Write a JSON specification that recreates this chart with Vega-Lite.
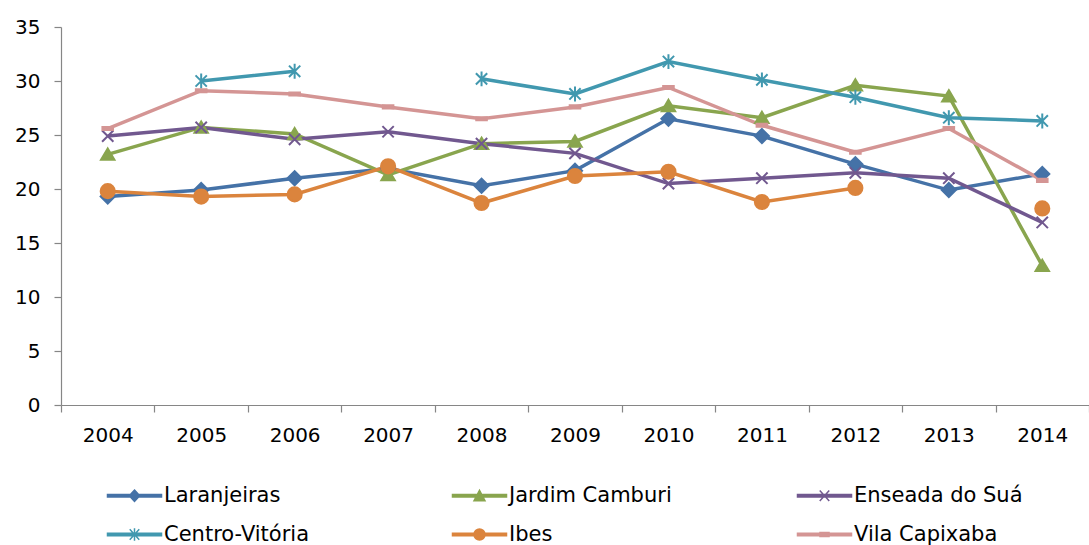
{
  "$schema": "https://vega.github.io/schema/vega-lite/v6.json",
  "width": 1028,
  "height": 378,
  "autosize": {"type": "none"},
  "padding": {"left": 61, "top": 27, "right": 0, "bottom": 140},
  "background": "white",
  "config": {
    "view": {"stroke": null},
    "font": "DejaVu Sans",
    "axis": {"labelFont": "DejaVu Sans", "labelFontSize": 20, "labelColor": "#000000", "domainColor": "#868686", "tickColor": "#868686", "domainWidth": 1.2, "tickWidth": 1.2, "grid": false, "title": null}
  },
  "resolve": {"scale": {"shape": "independent"}, "legend": {"color": "independent", "shape": "independent"}},
  "data": {"values": [
    {"series": "Laranjeiras", "year": "2004", "value": 19.3},
    {"series": "Laranjeiras", "year": "2005", "value": 19.9},
    {"series": "Laranjeiras", "year": "2006", "value": 21.0},
    {"series": "Laranjeiras", "year": "2007", "value": 21.9},
    {"series": "Laranjeiras", "year": "2008", "value": 20.3},
    {"series": "Laranjeiras", "year": "2009", "value": 21.7},
    {"series": "Laranjeiras", "year": "2010", "value": 26.5},
    {"series": "Laranjeiras", "year": "2011", "value": 24.9},
    {"series": "Laranjeiras", "year": "2012", "value": 22.3},
    {"series": "Laranjeiras", "year": "2013", "value": 19.9},
    {"series": "Laranjeiras", "year": "2014", "value": 21.4},
    {"series": "Jardim Camburi", "year": "2004", "value": 23.2},
    {"series": "Jardim Camburi", "year": "2005", "value": 25.7},
    {"series": "Jardim Camburi", "year": "2006", "value": 25.1},
    {"series": "Jardim Camburi", "year": "2007", "value": 21.3},
    {"series": "Jardim Camburi", "year": "2008", "value": 24.2},
    {"series": "Jardim Camburi", "year": "2009", "value": 24.4},
    {"series": "Jardim Camburi", "year": "2010", "value": 27.7},
    {"series": "Jardim Camburi", "year": "2011", "value": 26.6},
    {"series": "Jardim Camburi", "year": "2012", "value": 29.6},
    {"series": "Jardim Camburi", "year": "2013", "value": 28.6},
    {"series": "Jardim Camburi", "year": "2014", "value": 12.9},
    {"series": "Enseada do Suá", "year": "2004", "value": 24.9},
    {"series": "Enseada do Suá", "year": "2005", "value": 25.7},
    {"series": "Enseada do Suá", "year": "2006", "value": 24.6},
    {"series": "Enseada do Suá", "year": "2007", "value": 25.3},
    {"series": "Enseada do Suá", "year": "2008", "value": 24.2},
    {"series": "Enseada do Suá", "year": "2009", "value": 23.3},
    {"series": "Enseada do Suá", "year": "2010", "value": 20.5},
    {"series": "Enseada do Suá", "year": "2011", "value": 21.0},
    {"series": "Enseada do Suá", "year": "2012", "value": 21.5},
    {"series": "Enseada do Suá", "year": "2013", "value": 21.0},
    {"series": "Enseada do Suá", "year": "2014", "value": 16.9},
    {"series": "Centro-Vitória", "year": "2004", "value": null},
    {"series": "Centro-Vitória", "year": "2005", "value": 30.0},
    {"series": "Centro-Vitória", "year": "2006", "value": 30.9},
    {"series": "Centro-Vitória", "year": "2007", "value": null},
    {"series": "Centro-Vitória", "year": "2008", "value": 30.2},
    {"series": "Centro-Vitória", "year": "2009", "value": 28.8},
    {"series": "Centro-Vitória", "year": "2010", "value": 31.8},
    {"series": "Centro-Vitória", "year": "2011", "value": 30.1},
    {"series": "Centro-Vitória", "year": "2012", "value": 28.5},
    {"series": "Centro-Vitória", "year": "2013", "value": 26.6},
    {"series": "Centro-Vitória", "year": "2014", "value": 26.3},
    {"series": "Ibes", "year": "2004", "value": 19.8},
    {"series": "Ibes", "year": "2005", "value": 19.3},
    {"series": "Ibes", "year": "2006", "value": 19.5},
    {"series": "Ibes", "year": "2007", "value": 22.1},
    {"series": "Ibes", "year": "2008", "value": 18.7},
    {"series": "Ibes", "year": "2009", "value": 21.2},
    {"series": "Ibes", "year": "2010", "value": 21.6},
    {"series": "Ibes", "year": "2011", "value": 18.8},
    {"series": "Ibes", "year": "2012", "value": 20.1},
    {"series": "Ibes", "year": "2013", "value": null},
    {"series": "Ibes", "year": "2014", "value": 18.2},
    {"series": "Vila Capixaba", "year": "2004", "value": 25.6},
    {"series": "Vila Capixaba", "year": "2005", "value": 29.1},
    {"series": "Vila Capixaba", "year": "2006", "value": 28.8},
    {"series": "Vila Capixaba", "year": "2007", "value": 27.6},
    {"series": "Vila Capixaba", "year": "2008", "value": 26.5},
    {"series": "Vila Capixaba", "year": "2009", "value": 27.6},
    {"series": "Vila Capixaba", "year": "2010", "value": 29.4},
    {"series": "Vila Capixaba", "year": "2011", "value": 25.9},
    {"series": "Vila Capixaba", "year": "2012", "value": 23.4},
    {"series": "Vila Capixaba", "year": "2013", "value": 25.6},
    {"series": "Vila Capixaba", "year": "2014", "value": 20.8}
  ]},
  "encoding": {
    "x": {"field": "year", "type": "ordinal", "scale": {"paddingInner": 0, "paddingOuter": 0},
      "axis": {"labelAngle": 0, "tickBand": "extent", "tickSize": 7, "labelPadding": 13, "labelBaseline": "top"}},
    "y": {"field": "value", "type": "quantitative", "scale": {"domain": [0, 35], "nice": false, "zero": true},
      "axis": {"values": [0, 5, 10, 15, 20, 25, 30, 35], "tickSize": 7, "labelPadding": 14}}
  },
  "layer": [
    {
      "mark": {"type": "line", "strokeWidth": 3.5, "invalid": "break-paths-show-domains"},
      "encoding": {
        "color": {"field": "series", "type": "nominal",
          "scale": {"domain": ["Laranjeiras", "Jardim Camburi", "Enseada do Suá", "Centro-Vitória", "Ibes", "Vila Capixaba"],
                    "range": ["#4572A7", "#89A54E", "#71588F", "#4198AF", "#DB843D", "#D49594"]},
          "legend": {
            "orient": "none", "legendX": 60, "legendY": 455, "direction": "horizontal", "columns": 3,
            "title": null, "padding": 0, "symbolSize": 625, "labelFontSize": 21, "labelFont": "DejaVu Sans", "labelColor": "#000000",
            "labelOffset": 16, "columnPadding": 116, "rowPadding": 15, "gridAlign": "all", "labelLimit": 400,
            "encode": {"symbols": {"update": {
              "shape": {"signal": "datum.value === 'Laranjeiras' ? 'M-2.16,-0.1H2.16V0.1H-2.16Z M0,-0.46L0.42,0L0,0.46L-0.42,0Z' : datum.value === 'Jardim Camburi' ? 'M-2.16,-0.1H2.16V0.1H-2.16Z M0,-0.44L0.44,0.4H-0.44Z' : datum.value === 'Enseada do Suá' ? 'M-2.16,-0.1H2.16V0.1H-2.16Z M-0.38,-0.42L0.38,0.42M-0.38,0.42L0.38,-0.42' : datum.value === 'Centro-Vitória' ? 'M-2.16,-0.1H2.16V0.1H-2.16Z M-0.38,-0.42L0.38,0.42M-0.38,0.42L0.38,-0.42M0,-0.5V0.5' : datum.value === 'Ibes' ? 'M-2.16,-0.1H2.16V0.1H-2.16Z M0.44,0A0.44,0.44 0 1,1 -0.44,0A0.44,0.44 0 1,1 0.44,0Z' : 'M-2.16,-0.1H2.16V0.1H-2.16Z M-0.36,-0.16H0.36V0.16H-0.36Z'"},
              "fill": {"signal": "scale('color', datum.value)"},
              "stroke": {"signal": "scale('color', datum.value)"},
              "strokeWidth": {"value": 1.5},
              "opacity": {"value": 1}
            }}}
          }
        }
      }
    },
    {
      "mark": {"type": "point", "filled": true, "size": 200, "strokeWidth": 2, "opacity": 1},
      "encoding": {
        "color": {"field": "series", "type": "nominal", "legend": null},
        "stroke": {"field": "series", "type": "nominal", "legend": null,
          "scale": {"domain": ["Laranjeiras", "Jardim Camburi", "Enseada do Suá", "Centro-Vitória", "Ibes", "Vila Capixaba"],
                    "range": ["#4572A7", "#89A54E", "#71588F", "#4198AF", "#DB843D", "#D49594"]}},
        "shape": {"field": "series", "type": "nominal", "legend": null,
          "scale": {"domain": ["Laranjeiras", "Jardim Camburi", "Enseada do Suá", "Centro-Vitória", "Ibes", "Vila Capixaba"],
                    "range": ["diamond", "M0,-0.85L0.95,0.75H-0.95Z", "M-0.8,-0.8L0.8,0.8M-0.8,0.8L0.8,-0.8", "M-0.8,-0.8L0.8,0.8M-0.8,0.8L0.8,-0.8M0,-1.05V1.05", "circle", "M-0.75,-0.22H0.75V0.22H-0.75Z"]}}
      }
    }
  ]
}
